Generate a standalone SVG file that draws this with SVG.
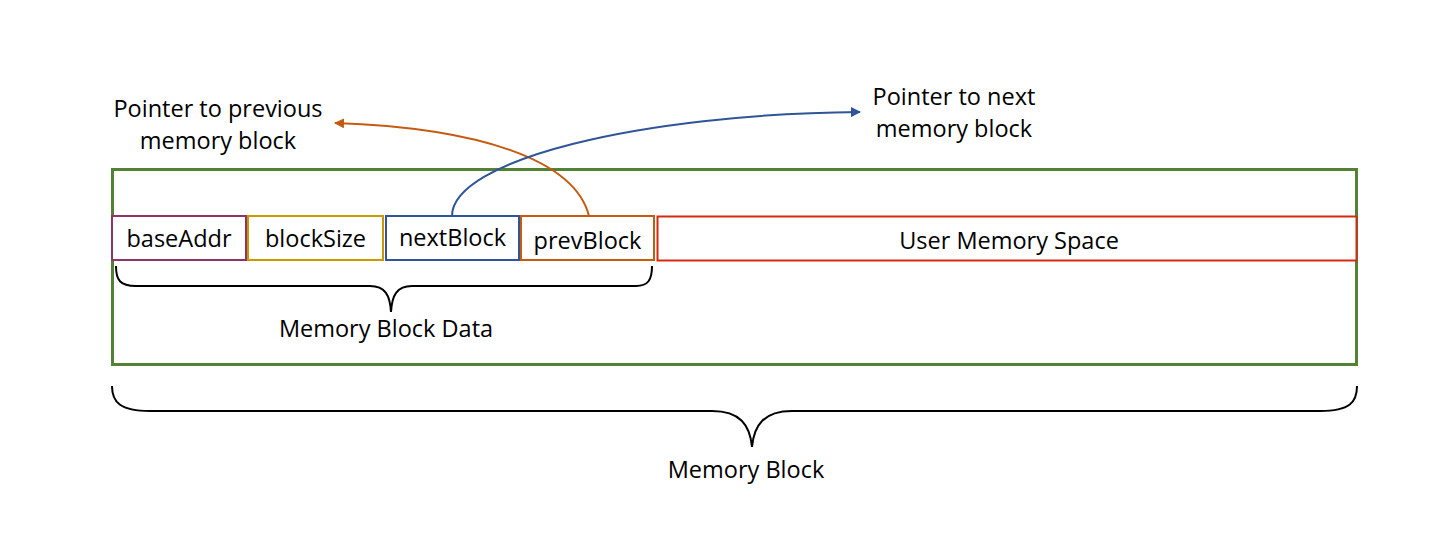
<svg xmlns="http://www.w3.org/2000/svg" width="1449" height="540" viewBox="0 0 1449 540">
<defs>
<style>
text{font-family:"Open Sans","Liberation Sans",sans-serif;font-size:23.5px;fill:#000;text-anchor:middle}
.box{fill:#fff;stroke-width:2}
.brace{fill:none;stroke:#000;stroke-width:2}
.arc{fill:none;stroke-width:2}
</style>
<marker id="ao" viewBox="0 0 10 10" refX="9" refY="5" markerWidth="5" markerHeight="5" orient="auto"><path d="M0,0 L10,5 L0,10 z" fill="#C55A11"/></marker>
<marker id="ab" viewBox="0 0 10 10" refX="9" refY="5" markerWidth="5" markerHeight="5" orient="auto"><path d="M0,0 L10,5 L0,10 z" fill="#2F5597"/></marker>
</defs>
<rect width="1449" height="540" fill="#fff"/>
<g id="memoryBlock">
<rect x="112.5" y="169.5" width="1244" height="195" fill="none" stroke="#548235" stroke-width="3"/>
</g>
<g id="baseAddr">
<rect class="box" x="112" y="216" width="134" height="44" stroke="#8E3566"/>
<text x="179" y="247">baseAddr</text>
</g>
<g id="blockSize">
<rect class="box" x="248" y="216" width="135" height="44" stroke="#C99A00"/>
<text x="315.5" y="247">blockSize</text>
</g>
<g id="nextBlock">
<rect class="box" x="386" y="216" width="133" height="44" stroke="#2F5597"/>
<text x="452.5" y="246">nextBlock</text>
</g>
<g id="prevBlock">
<rect class="box" x="521" y="216" width="133" height="44" stroke="#C55A11"/>
<text x="587.5" y="249">prevBlock</text>
</g>
<g id="userMemory">
<rect class="box" x="657.5" y="216.5" width="699" height="44" stroke="#D42A10" stroke-width="2.5"/>
<text x="1009" y="249">User Memory Space</text>
</g>
<g id="braces">
<path class="brace" d="M116,266 C116,280 120,286 136,286 L370,286 C385,286 390,295 391,312 C392,295 397,286 412,286 L636,286 C648,286 652,280 652,266"/>
<path class="brace" d="M112,386 C112,402 120,411 150,411 L712,411 C740,411 750,425 752,447 C754,425 764,411 792,411 L1320,411 C1350,411 1357,402 1357,386"/>
</g>
<g id="labels">
<text x="386" y="337">Memory Block Data</text>
<text x="746" y="478">Memory Block</text>
<text x="218" y="117">Pointer to previous</text>
<text x="218" y="149">memory block</text>
<text x="954" y="105">Pointer to next</text>
<text x="954" y="137">memory block</text>
</g>
<g id="connectors">
<path class="arc" stroke="#C55A11" d="M589,216 C575,160 480,128 335,123" marker-end="url(#ao)"/>
<path class="arc" stroke="#2F5597" d="M452,216 C452,160 640,114 860,112" marker-end="url(#ab)"/>
</g>
</svg>
